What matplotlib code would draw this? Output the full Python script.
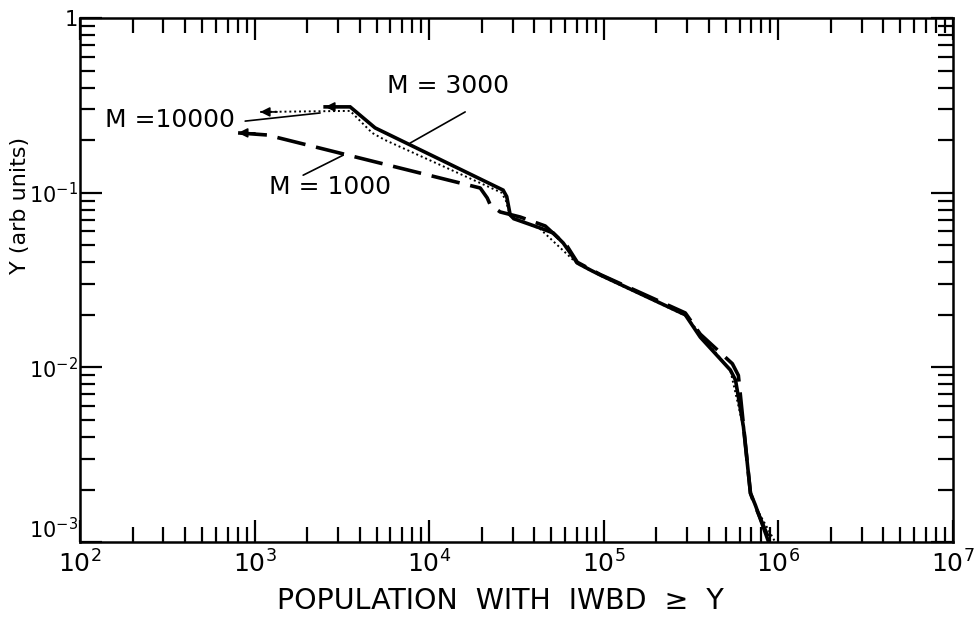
import math
import matplotlib
matplotlib.use("Agg")
import matplotlib.pyplot as plt
from matplotlib.ticker import LogLocator, FuncFormatter, NullFormatter

# --- data ---
# M = 3000 (solid)
x_3000 = [2535, 3525, 4900, 26500, 27800, 29100, 30500, 43200, 51400, 58600,
          70500, 83800, 95500, 293000, 357000, 531000, 568000, 631000, 692000,
          738000, 880000]
y_3000 = [0.31, 0.31, 0.235, 0.1035, 0.095, 0.0745, 0.071, 0.0628, 0.0588, 0.0515,
          0.0396, 0.0361, 0.0338, 0.0200, 0.0149, 0.00966, 0.00847, 0.00456, 0.00191,
          0.00163, 0.001]

# M = 1000 (dashed)
x_1000 = [804, 1180, 19600, 21500, 22400, 25500, 33200, 46200, 61600, 70500,
          95500, 293000, 357000, 545000, 590000, 692000, 738000, 900000]
y_1000 = [0.22, 0.214, 0.1064, 0.0933, 0.085, 0.0776, 0.0726, 0.0645, 0.0495, 0.0400,
          0.0340, 0.0205, 0.0155, 0.0105, 0.0090, 0.0019, 0.0016, 0.001]

# M = 10000 (dotted)
x_10000 = [1076, 3525, 4710, 5600, 26000, 27500, 29100, 43200, 70500, 95500,
           293000, 531000, 631000, 692000, 738000, 960000]
y_10000 = [0.29, 0.294, 0.22, 0.2, 0.1, 0.09, 0.0735, 0.062, 0.0392, 0.0335,
           0.0198, 0.0096, 0.0045, 0.0019, 0.0016, 0.001]

curve_labels = ["M = 3000", "M = 1000", "M =10000"]

plt.rcParams['font.family'] = ['DejaVu Sans']
plt.rcParams['mathtext.fontset'] = 'dejavusans'

fig = plt.figure(figsize=(9.76, 6.21), dpi=100)
ax = fig.add_axes([0.082, 0.127, 0.8944, 0.844])

ax.plot(x_3000, y_3000, color='black', lw=2.6, solid_joinstyle='miter')
ax.plot(x_1000, y_1000, color='black', lw=2.6, dashes=(8, 3))
ax.plot(x_10000, y_10000, color='black', lw=1.4, ls=(0, (1, 1.5)))

# arrow heads at the left end of each curve
for xs, ys in [(x_3000, y_3000), (x_1000, y_1000), (x_10000, y_10000)]:
    ax.annotate("", xy=(xs[0], ys[0]), xytext=(xs[0] * 1.25, ys[0]),
                arrowprops=dict(arrowstyle='-|>', color='black', lw=1.2,
                                mutation_scale=14, shrinkA=0, shrinkB=0))

# curve labels with leader lines
ax.text(12850, 0.408, curve_labels[0], fontsize=18, ha='center', va='center')
ax.text(2710, 0.108, curve_labels[1], fontsize=18, ha='center', va='center')
ax.text(328, 0.261, curve_labels[2], fontsize=18, ha='center', va='center')
for (x0, y0), (x1, y1) in [((16070, 0.29), (7780, 0.1925)),
                           ((1897, 0.126), (3215, 0.164)),
                           ((883, 0.257), (2371, 0.286))]:
    ax.annotate("", xy=(x1, y1), xytext=(x0, y0),
                arrowprops=dict(arrowstyle='-', color='black', lw=1.2,
                                shrinkA=0, shrinkB=0))

ax.set_xscale('log')
ax.set_yscale('log')
ax.set_xlim(1e2, 1e7)
ax.set_ylim(1e-3, 1)

def fmt(v, pos):
    if abs(v - 1) < 1e-9:
        return "1"
    n = int(round(math.log10(v)))
    return r"$10^{%d}$" % n

for axis in [ax.xaxis, ax.yaxis]:
    axis.set_major_locator(LogLocator(base=10, numticks=10))
    axis.set_minor_locator(LogLocator(base=10, subs=range(2, 10), numticks=10))
    axis.set_major_formatter(FuncFormatter(fmt))
    axis.set_minor_formatter(NullFormatter())

ax.tick_params(which='both', direction='in', top=True, right=True,
               width=1.6, color='black')
ax.tick_params(axis='x', which='major', labelsize=18, pad=6)
ax.tick_params(axis='y', which='major', labelsize=15, pad=1.5)
ax.tick_params(which='major', length=16)
ax.tick_params(which='minor', length=11)
for s in ax.spines.values():
    s.set_linewidth(1.8)

ax.set_xlabel("POPULATION  WITH  IWBD  \u2265  Y", fontsize=20.5)
ax.xaxis.set_label_coords(0.482, -0.085)
ax.set_ylabel("Y (arb units)", fontsize=16)
ax.yaxis.set_label_coords(-0.057, 0.643)

# lift the 10^-3 label off the corner, as in the original
fig.canvas.draw()
for tick in ax.yaxis.get_major_ticks():
    if abs(tick.get_loc() - 1e-3) < 1e-9:
        tick.label1.set_verticalalignment('bottom')

fig.savefig("out.png", dpi=100, facecolor='white')
